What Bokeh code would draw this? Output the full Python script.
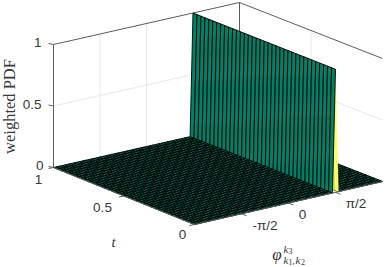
import numpy as np
from bokeh.plotting import figure
from bokeh.embed import file_html
from bokeh.resources import INLINE
from bokeh.core.properties import value

W, H = 386, 267
phi_ticks = [-np.pi / 2, 0.0, np.pi / 2]
phi_tick_labels = ["-π/2", "0", "π/2"]
t_ticks = [0.0, 0.5, 1.0]
t_tick_labels = ["0", "0.5", "1"]
z_ticks = [0.0, 0.5, 1.0]
z_tick_labels = ["0", "0.5", "1"]
n_phi = 64
n_t = 36
peak_index = 48
weighted_pdf = [0.0] * peak_index + [1.0] + [0.0] * (n_phi - peak_index)

phi_grid = np.linspace(-np.pi, np.pi, n_phi + 1)
t_grid = np.linspace(0, 1, n_t + 1)

FRONT = np.array([194.0, 224.0])
RIGHT = np.array([382.0, 181.0])
LEFT = np.array([53.0, 167.0])
BACK = np.array([239.0, 125.0])
ZH = 123.0


def proj(phi, t, z=0.0):
    u = (phi + np.pi) / (2 * np.pi)
    a = FRONT * (1 - u) + RIGHT * u
    b = LEFT * (1 - u) + BACK * u
    q = a * (1 - t) + b * t
    return q[0], q[1] - ZH * z


p = figure(width=W, height=H, x_range=(0, W), y_range=(H, 0), output_backend="svg",
           toolbar_location=None, min_border=0, outline_line_color=None)
p.axis.visible = False
p.grid.visible = False
p.styles = {"position": "absolute", "left": "0px", "top": "0px"}

GRID = "#e8e8e8"
AX = "#5c5c5c"
TXT = "#383838"


def line(a, b, color, w=1.0):
    p.line([a[0], b[0]], [a[1], b[1]], line_color=color, line_width=w)


# back-plane grid
for ph in phi_ticks:
    line(proj(ph, 1, 0), proj(ph, 1, 1), GRID)
for tv in t_ticks[1:-1]:
    line(proj(np.pi, tv, 0), proj(np.pi, tv, 1), GRID)
for zv in z_ticks[1:-1]:
    line(proj(-np.pi, 1, zv), proj(np.pi, 1, zv), GRID)
    line(proj(np.pi, 1, zv), proj(np.pi, 0, zv), GRID)

# box
line(proj(-np.pi, 1, 0), proj(-np.pi, 1, 1), AX)
line(proj(-np.pi, 1, 1), proj(np.pi, 1, 1), AX)
line(proj(np.pi, 1, 1), proj(np.pi, 0, 1), AX)
line(proj(np.pi, 1, 0), proj(np.pi, 1, 1), AX)
line(proj(np.pi, 1, 0), proj(np.pi, 0, 0), AX)


def face_color(z):
    return "#ffff66" if z > 0.5 else "#008066"


def faces(indices):
    xs, ys, cs = [], [], []
    for i in indices:
        for j in range(n_t - 1, -1, -1):
            c = [proj(phi_grid[i], t_grid[j], weighted_pdf[i]),
                 proj(phi_grid[i + 1], t_grid[j], weighted_pdf[i + 1]),
                 proj(phi_grid[i + 1], t_grid[j + 1], weighted_pdf[i + 1]),
                 proj(phi_grid[i], t_grid[j + 1], weighted_pdf[i])]
            xs.append([q[0] for q in c])
            ys.append([q[1] for q in c])
            cs.append(face_color(weighted_pdf[i]))
    return xs, ys, cs


xs, ys, cs = faces(list(range(n_phi - 1, peak_index, -1)))
p.patches(xs, ys, fill_color=cs, line_color="#000000", line_width=0.9)
xs, ys, cs = faces([peak_index])
p.patches(xs, ys, fill_color=cs, line_color="#ffff66", line_width=0.3)
xs, ys, cs = faces(list(range(0, peak_index)))
p.patches(xs, ys, fill_color=cs, line_color="#000000", line_width=0.9)

# front axes
line(proj(-np.pi, 1, 0), proj(-np.pi, 0, 0), AX)
line(proj(-np.pi, 0, 0), proj(np.pi, 0, 0), AX)

# ticks
for ph in phi_ticks:
    x, y = proj(ph, 0, 0)
    line((x, y), (x + 5, y + 2), AX)
for tv in t_ticks:
    x, y = proj(-np.pi, tv, 0)
    line((x, y), (x - 5, y + 1), AX)
for zv in z_ticks:
    x, y = proj(-np.pi, 1, zv)
    line((x, y), (x - 5, y - 1), AX)


def label(x, y, s, size="13.5px", font="Liberation Sans", style="normal", align="center", angle=0.0):
    p.text([x], [y], text=[s], text_font=value(font), text_font_size=value(size),
           text_font_style=style, text_color=TXT, text_align=align, text_baseline="middle", angle=angle)


for s, x, y in zip(z_tick_labels, [43, 41, 41], [165, 104, 42]):
    label(x, y, s, align="right")
for s, x, y in zip(t_tick_labels, [182, 102, 38], [234, 207, 179]):
    label(x, y, s)
for s, x, y in zip(phi_tick_labels, [264.5, 302, 355.5], [225, 214, 203]):
    label(x, y, s)

label(9, 106, "weighted PDF", size="16.5px", font="Liberation Serif", angle=np.pi / 2)
label(113, 241, "t", size="15px", font="Liberation Serif", style="italic")
label(276.5, 254, "φ", size="17px", font="Liberation Serif", style="italic")
ser = "Liberation Serif"
label(283, 248, "k", size="11px", font=ser, style="italic", align="left")
label(288, 250, "3", size="8px", font=ser, align="left")
label(283, 259, "k", size="11px", font=ser, style="italic", align="left")
label(288, 261.5, "1", size="8px", font=ser, align="left")
label(292, 260, ",", size="9px", font=ser, align="left")
label(295, 259, "k", size="11px", font=ser, style="italic", align="left")
label(300.5, 261.5, "2", size="8px", font=ser, align="left")

open("out.html", "w").write(file_html(p, INLINE))
